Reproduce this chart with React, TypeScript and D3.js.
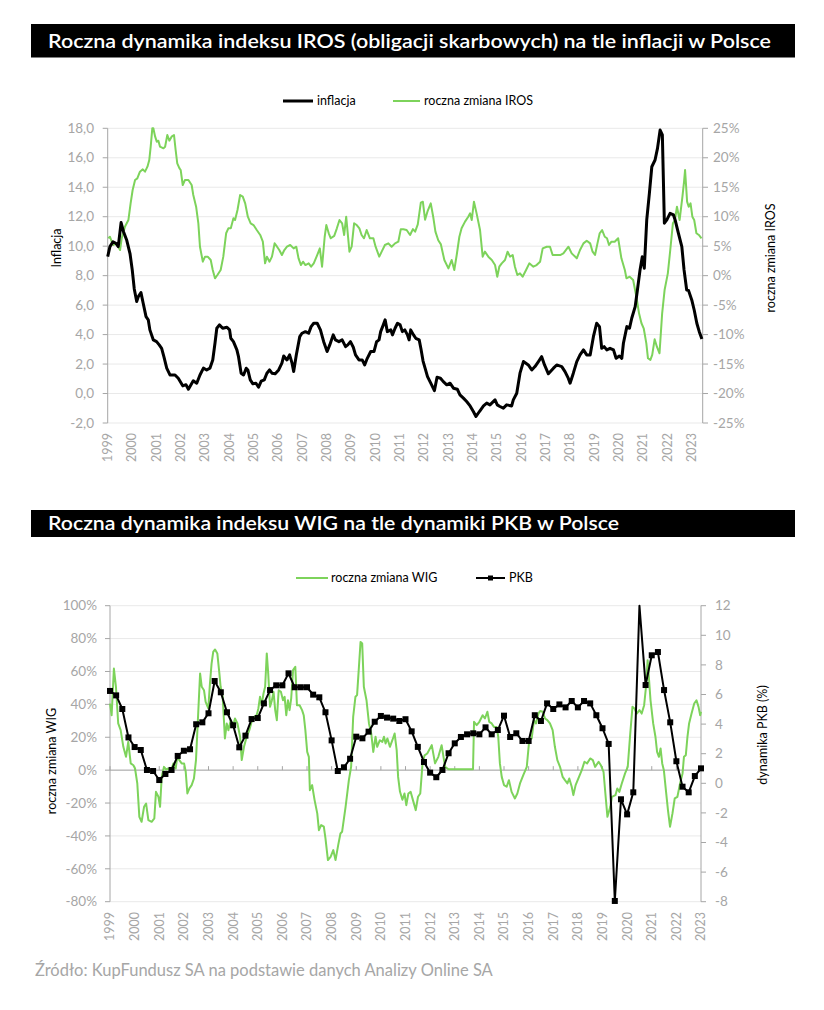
import React from "react";
import * as d3 from "d3";

// ---------- DATA ----------
// x positions are months since Jan 1999 (category axis, monthly)
const yearLabels = d3.range(1999, 2024).map(String);

const title1 = "Roczna dynamika indeksu IROS (obligacji skarbowych) na tle inflacji w Polsce";
const title2 = "Roczna dynamika indeksu WIG na tle dynamiki PKB w Polsce";
const source = "Źródło: KupFundusz SA na podstawie danych Analizy Online SA";

const yTicksInfl = [-2, 0, 2, 4, 6, 8, 10, 12, 14, 16, 18];
const yTicksIros = [-25, -20, -15, -10, -5, 0, 5, 10, 15, 20, 25];
const yTicksWig = [-80, -60, -40, -20, 0, 20, 40, 60, 80, 100];
const yTicksPkb = [-8, -6, -4, -2, 0, 2, 4, 6, 8, 10, 12];

// inflation (%) — [month, value]
const inflation: [number, number][] = [
  [0, 9.29], [1.1, 9.97], [2.6, 10.3], [4, 10.2], [5.2, 9.97], [6.6, 11.6], [7.8, 10.98], [9.4, 10.4],
  [11, 9.5], [12.1, 8.39], [13.1, 7.1], [14.3, 6.24], [15.1, 6.58], [16.4, 6.85], [17.5, 6.13], [18.9, 5.22],
  [20, 5.0], [20.8, 4.32], [22.5, 3.64], [24.1, 3.52], [25.4, 3.3], [26.6, 3.07], [27.7, 2.5], [29.1, 1.72],
  [30.7, 1.26], [33.2, 1.26], [34.8, 1.04], [37, 0.52], [38.6, 0.6], [39.8, 0.29], [42.2, 0.86], [43.9, 0.7],
  [45.5, 1.26], [47.2, 1.72], [48.8, 1.6], [50.4, 1.72], [51.8, 2.28], [52.9, 3.41], [53.8, 4.43], [55.1, 4.66],
  [56.7, 4.43], [58.8, 4.5], [60.1, 4.32], [60.7, 3.75], [62, 3.52], [63.7, 2.96], [64.5, 2.5], [65.8, 1.38],
  [67, 1.26], [68.3, 1.72], [69.1, 1.6], [70.3, 0.93], [71.6, 0.66], [73.1, 0.7], [74.4, 0.43], [75.7, 0.84],
  [77.2, 0.93], [78.5, 1.38], [79.8, 1.6], [81, 1.38], [82.6, 1.34], [84.3, 1.6], [85.9, 2.06], [86.8, 2.55],
  [88.4, 2.28], [89.7, 2.62], [90.9, 2.06], [91.7, 1.49], [93, 2.62], [94.7, 3.86], [95.8, 4.09], [97.5, 4.2],
  [99.1, 4.09], [100.3, 4.54], [101.6, 4.77], [103.3, 4.77], [104.9, 4.32], [106.5, 3.52], [108.2, 2.85], [109.5, 3.3],
  [111.2, 3.98], [112.3, 3.64], [114, 3.52], [115.6, 3.64], [117.3, 3.18], [118.4, 3.3], [119.7, 3.52], [121.1, 3.14],
  [122.2, 2.62], [123.9, 2.28], [125.5, 2.28], [126.7, 1.94], [128, 2.39], [129.7, 2.85], [131.3, 2.85], [132.6, 3.52],
  [133.8, 3.64], [134.6, 4.2], [135.9, 4.66], [136.8, 5.0], [137.9, 4.2], [139.6, 4.32], [140.4, 3.98], [141.7, 4.43],
  [142.9, 4.77], [144.2, 4.66], [145.3, 4.2], [146.5, 4.32], [147.8, 3.98], [148.6, 3.64], [149.4, 4.32], [150.8, 3.98],
  [151.9, 3.75], [153.6, 3.64], [154.5, 3.0], [155.5, 2.2], [156.5, 1.72], [157.7, 1.15], [159.3, 0.7], [161.1, 0.2],
  [162.4, 1.1], [164.1, 1.04], [165.5, 0.81], [167.2, 0.59], [168.8, 0.7], [170.5, 0.36], [172.4, 0.29], [173.7, -0.09],
  [175.4, -0.31], [177, -0.54], [178.7, -0.84], [180.3, -1.22], [181.6, -1.56], [183.3, -1.22], [185.3, -0.84], [186.9, -0.65],
  [188.5, -0.77], [191, -0.43], [192.1, -0.77], [193.4, -0.88], [195.1, -0.99], [196.7, -0.77], [199.2, -0.84], [200, -0.43],
  [201.7, 0.02], [203.3, 1.38], [205, 2.17], [207.4, 1.94], [209.1, 1.6], [210.7, 1.83], [212.4, 2.17], [214, 2.5],
  [215.4, 1.94], [217.3, 1.34], [219.8, 1.72], [221.4, 1.94], [223.9, 1.83], [225.5, 1.49], [227.1, 1.04], [228, 0.7],
  [229.6, 1.38], [231.3, 2.17], [232.9, 2.62], [234.6, 2.96], [236.2, 2.62], [237.9, 2.62], [239.5, 3.86], [241.1, 4.77],
  [242.5, 4.54], [243.6, 3.07], [244.8, 3.18], [246.1, 2.96], [247.7, 3.07], [249.4, 2.96], [250.7, 2.39], [252.3, 2.55],
  [253.5, 2.39], [254.3, 3.41], [256, 4.54], [257.3, 4.43], [258.4, 5.11], [260.1, 5.9], [261.2, 7.03], [262.5, 8.39],
  [263.6, 9.29], [264.6, 8.5], [265.8, 11.78], [267.1, 13.59], [268.3, 15.39], [269.9, 15.85], [271.1, 16.64], [272.4, 17.88],
  [273.5, 17.55], [274.5, 11.56], [275.7, 11.78], [277.3, 12.23], [279, 12.12], [279.8, 11.78], [281.4, 10.88], [283.1, 9.97],
  [284.2, 8.39], [285.5, 7.03], [286.4, 7.0], [288, 6.35], [289.2, 5.67], [290.5, 4.77], [291.7, 4.2], [293, 3.7],
];

// annual change of IROS (%) — [month, value]
const iros: [number, number][] = [
  [0.3, 6.34], [1.1, 6.6], [2, 5.76], [2.8, 5.2], [4.1, 5.48], [5.2, 4.91], [6.1, 4.35], [6.9, 6.34],
  [8.5, 8.3], [10.2, 9.44], [11.3, 12.27], [12.3, 14.53], [13.5, 16.23], [14.6, 16.51], [15.9, 17.64], [17.3, 18.04],
  [18.4, 17.64], [19.6, 18.49], [20.5, 19.62], [21.2, 21.88], [22, 25], [22.5, 25], [23.4, 23.58], [24.2, 22.73],
  [25, 22.9], [25.8, 21.88], [27.5, 21.6], [28.3, 21.88], [29.4, 23.86], [30.4, 22.9], [31.5, 23.58], [32.7, 23.86],
  [33.5, 21.32], [34.3, 19.06], [35.4, 18.21], [36, 17.92], [37, 15.38], [38.1, 16.23], [39.8, 16.23], [41.4, 15.38],
  [42.2, 13.68], [43.6, 11.7], [44.7, 8.88], [45.5, 4.91], [46.9, 2.37], [48, 3.22], [49.3, 3.22], [50.8, 2.65],
  [51.8, 0.96], [52.9, -0.45], [54.1, 0.11], [55.7, 0.96], [57, 3.22], [58.4, 7.19], [59.5, 8.03], [60.7, 8.03],
  [62, 9.73], [62.8, 9.44], [64, 11.14], [65.3, 13.68], [66.6, 13.4], [67.8, 12.27], [69.1, 10.0], [70.5, 8.88],
  [71.9, 8.59], [73.5, 7.74], [75.2, 6.9], [76.5, 5.76], [77.6, 2.09], [78.5, 3.22], [79.8, 2.37], [81, 3.22],
  [82.3, 5.48], [83.5, 4.91], [84.6, 4.35], [85.9, 3.5], [87.1, 4.35], [88.4, 4.91], [90, 5.2], [91.7, 4.63],
  [93, 4.91], [94.1, 2.94], [95.3, 1.8], [96.3, 2.37], [97.5, 1.8], [99.1, 2.09], [100.3, 1.52], [101.6, 2.09],
  [103.3, 3.5], [104.6, 4.63], [105.7, 1.52], [107, 6.6], [107.8, 8.59], [109, 7.19], [110, 6.34], [111.7, 6.74],
  [113, 8.03], [114.3, 9.44], [115.6, 8.88], [116.6, 6.9], [117.6, 10.0], [119.2, 4.07], [120.3, 4.91], [121.5, 8.88],
  [122.8, 8.59], [124.1, 8.03], [125.2, 6.9], [126.4, 6.34], [127.7, 7.74], [129.3, 6.34], [131, 6.34], [132.1, 4.91],
  [133.9, 3.22], [135.1, 4.07], [136.7, 5.2], [138.4, 5.48], [140, 4.91], [141.7, 5.48], [143.3, 5.76], [144.5, 7.86],
  [145.8, 7.86], [147.4, 7.74], [149.1, 6.9], [150.5, 7.9], [151.6, 7.46], [152.9, 8.7], [154.4, 12.4], [155.4, 12.55],
  [156.5, 9.5], [157.8, 11.0], [159.3, 12.27], [160.5, 10.0], [161.6, 7.46], [163, 6.0], [164.3, 5.3], [166, 2.65],
  [168, 1.24], [169.6, 2.65], [170.9, 0.96], [172.1, 3.5], [173.4, 6.6], [174.5, 8.03], [176.2, 9.16], [177.8, 10.0],
  [178.7, 10.57], [179.5, 9.44], [180.6, 12.55], [181.9, 10.57], [183.6, 7.74], [184.9, 3.22], [186, 4.07], [187.7, 3.22],
  [189.4, 2.65], [191, 1.8], [192.1, -0.18], [193.1, 1.52], [194.3, 2.09], [195.9, 2.65], [197.2, 4.07], [198.4, 3.22],
  [199.7, 3.5], [200.8, 1.52], [202, 0.11], [203.3, 0.39], [204.6, -0.18], [206.3, 0.96], [207.9, 2.09], [209.9, 1.52],
  [211.5, 1.8], [213.2, 2.37], [214.5, 4.63], [216.5, 4.91], [218.1, 4.91], [219.4, 3.5], [221.4, 3.5], [223.1, 3.5],
  [224.7, 3.78], [227.2, 4.91], [228.8, 3.78], [231.3, 2.94], [232.9, 4.35], [234.6, 5.48], [236.2, 5.93], [237.9, 5.48],
  [239.1, 4.07], [240.3, 3.5], [241.5, 5.48], [242.6, 7.19], [243.8, 7.74], [245.1, 6.6], [246.2, 6.34], [247.2, 5.2],
  [248.4, 5.76], [250, 5.76], [251.7, 6.34], [253.3, 2.94], [255, 0.96], [255.8, -0.45], [257.4, -0.18], [259.1, -0.74],
  [260.7, -3.57], [262, -6.39], [263.2, -8.08], [264.3, -8.93], [265.6, -11.48], [266.4, -14.02], [267.6, -14.3], [268.5, -13.45],
  [269.7, -10.8], [270.8, -12.05], [272.1, -13.17], [273.4, -6.39], [274.6, -2.44], [276.2, 0.39], [277.4, 4.35], [278.7, 8.88],
  [279.7, 9.44], [280.7, 11.7], [282, 9.44], [283.4, 13.4], [284.2, 15.94], [284.7, 17.92], [285.7, 12.55], [286.5, 11.7],
  [287.4, 12.27], [288.3, 10.0], [289.2, 9.44], [290.3, 7.19], [291.5, 6.9], [292.8, 6.34],
];

// annual change of WIG (%) — [month, value]
const wig: [number, number][] = [
  [0, 40.5], [0.8, 33.4], [1.9, 61.8], [2.9, 50.7], [4, 28.4], [5.2, 24.3], [6.5, 14.2], [7.8, 8.1],
  [8.9, 17.2], [10.1, 4.1], [11.4, 3.0], [12.2, 1.0], [13.3, -8.1], [14.3, -28.4], [15.4, -31.4], [16.6, -22.3],
  [17.6, -20.3], [18.7, -30.4], [20.3, -31.4], [21.6, -29.4], [22.4, -13.2], [23.6, -16.2], [24.4, -22.3], [25.2, -4.05],
  [26.3, 2.0], [27.3, 0.4], [28.4, 1.0], [29.6, -1.0], [30.9, 4.1], [32, 1.0], [32.8, 8.1], [33.8, 6.1],
  [34.9, 4.1], [36.1, 4.1], [36.9, -1.0], [37.7, -14.2], [38.7, -11.1], [39.8, -9.1], [40.9, -5.1], [41.9, 6.1],
  [43.9, 58.8], [44.7, 50.7], [45.8, 48.6], [46.6, 41.5], [47.9, 37.5], [48.7, 52.7], [49.5, 64.8], [50.3, 71.9],
  [51.2, 73.4], [52.3, 71], [53.3, 58.8], [53.9, 50.7], [54.9, 44.6], [56, 19.3], [56.9, 28.4], [57.7, 24.3],
  [58.8, 30.4], [59.8, 26.3], [60.9, 31.4], [62.1, 28.4], [63.4, 20.3], [64.2, 6.1], [65.3, 14.2], [66.6, 20.3],
  [67.9, 24.3], [69, 29.4], [70.2, 32.4], [71.5, 33.4], [72.3, 37.5], [73.1, 44.6], [73.9, 39.5], [74.8, 46.6],
  [75.6, 50.7], [76.4, 71], [77.1, 58.8], [78, 38.5], [78.9, 42.5], [79.7, 47.6], [80.5, 36.5], [81.3, 30.4],
  [82.2, 48.6], [83.3, 47.6], [84.3, 42.5], [85.1, 44.6], [85.9, 33.4], [86.7, 42.5], [87.5, 36.5], [88.3, 43.6],
  [89.2, 60.8], [90.3, 62.8], [91.1, 39.5], [92.4, 39.5], [93.6, 36.5], [94.4, 33.4], [95.2, 24.3], [96.1, 11.1],
  [96.9, 8.1], [97.4, -12.2], [98.5, -9.1], [99.7, -18.2], [101, -26.3], [101.8, -36.5], [102.9, -33.4], [104.2, -34.4],
  [105, -41.5], [106.2, -54.7], [107.5, -52.7], [108.8, -48.6], [109.9, -54.7], [111.2, -45.6], [112.3, -38.5], [113.1, -37.5],
  [114.8, -22.3], [116.4, -6.1], [117.5, 2.0], [118.5, 32.4], [119.6, 44.6], [120.4, 45.6], [121.2, 60.8], [122.1, 78],
  [122.9, 77], [123.7, 50.7], [125, 42.5], [126.2, 28.4], [127.3, 22.3], [128.3, 11.1], [129.4, 20.3], [130.2, 14.2],
  [131.5, 18.2], [132.7, 17.2], [133.5, 20.3], [134.3, 16.2], [135.2, 19.3], [136.4, 14.2], [137.6, 18.2], [138.7, 22.3],
  [139.7, 12.2], [140.4, -4.1], [141.3, -13], [142.5, -18], [143.5, -14.2], [144.4, -21.3], [145.4, -14.2], [146.5, -13.2],
  [147.8, -19], [149, -24.3], [150.1, -16.2], [151.2, -14.2], [152.3, 4.1], [153.3, 9], [154.6, 10.1], [156.8, 15.2],
  [158.4, 4.1], [160, 8.1], [161.6, 15.2], [163.3, 2.0], [164.9, 0.5], [176.9, 0.5], [177.4, 29.4], [178.7, 27.4],
  [180, 29.4], [181.6, 33.4], [182.7, 31.4], [183.9, 35.5], [184.8, 29.4], [186, 28.4], [187.1, 26.3], [188.4, 26.3],
  [189.2, 20.3], [190, 4.1], [190.9, -4.1], [192, -9.1], [193.3, -10.1], [194.4, -6.1], [195.7, -13.2], [197.3, -17.2],
  [198.5, -14.2], [199.8, -8.1], [201.4, -3.0], [203.1, 2.0], [204.3, 18.2], [205.5, 19.3], [206.6, 30.4], [207.6, 28.4],
  [208.8, 34.4], [209.6, 36], [210.9, 35.5], [212, 31.4], [213.1, 30.4], [214.4, 28.4], [215.7, 24.3], [216.8, 14.2],
  [218, 6.1], [219.3, 2.0], [220.6, -4.1], [221.7, -6.1], [222.9, -8.1], [223.8, -5.1], [225, -10.1], [225.8, -15.2],
  [226.9, -9.1], [228.2, -5.1], [229.9, 0], [231.2, 5.1], [232.5, 4.1], [234, 7.1], [235.3, 6.1], [236.4, 2.0],
  [238.1, 5.1], [239.2, 3.0], [240.5, -1], [241.4, -14.2], [242.4, -28.4], [243.8, -22.3], [244.6, -16.2], [246.3, -15.2],
  [247.2, -11.1], [248.2, -13.2], [249.4, -8.1], [251, -2.0], [252.3, 2.0], [253.4, 20.3], [254.6, 38.5], [255.6, 37.5],
  [256.7, 34.4], [258, 36.5], [259.1, 34.4], [260.3, 39.5], [261.2, 50.7], [262, 66.9], [263.4, 42.5], [264.7, 28.4],
  [265.8, 20.3], [266.6, 11.1], [267.5, 8.1], [268.3, 13.2], [269.1, 4.1], [269.9, 0], [270.8, -11.1], [271.9, -24.3],
  [272.9, -34.4], [274.1, -26.3], [275.2, -17.2], [276.5, -16.2], [277.8, -8.1], [279, -2.0], [279.7, 8.1], [280.6, 9.1],
  [281.4, 20.3], [282.2, 28.4], [283.4, 34.4], [284.7, 40.5], [285.8, 42.5], [286.8, 38.5], [287.6, 33.4], [288, 35.5],
];

// GDP dynamics (%), quarterly from the first category
const pkb = [
  6.24, 5.94, 5.02, 3.1, 2.45, 2.25, 0.9, 0.83, 0.22, 0.63, 0.9, 1.85, 2.2, 2.3, 3.99, 4.12,
  4.73, 6.91, 6.15, 4.8, 3.92, 2.43, 3.22, 4.34, 4.41, 5.4, 6.3, 6.62, 6.62, 7.43, 6.49, 6.49,
  6.49, 5.99, 5.81, 4.8, 2.9, 0.83, 1.08, 1.66, 3.15, 3.04, 3.49, 4.16, 4.55, 4.44, 4.37, 4.21,
  4.33, 3.51, 2.46, 1.44, 0.72, 0.41, 0.9, 2.03, 2.7, 3.13, 3.31, 3.38, 3.31, 3.78, 3.31, 3.6,
  4.57, 3.13, 3.38, 2.86, 2.86, 4.6, 4.21, 5.4, 5.02, 5.33, 5.13, 5.56, 5.13, 5.56, 5.4, 4.6,
  3.72, 2.66, -7.95, -1.08, -2.1, -0.61, 12.0, 6.64, 8.65, 8.87, 6.3, 4.12, 1.49, -0.23, -0.61, 0.49,
  1.01,
];

// ---------- STYLE ----------
const GREEN = "#7dd35b";
const GRID = "#e9e9e9";
const AXIS = "#a6a6a6";
const TICK_TEXT = "#a6a6a6";
const FONT = "Lato, 'Open Sans', sans-serif";

export default function App() {
  // chart 1 scales
  const x1 = d3.scaleLinear().domain([0, 293]).range([107.7, 701.9]);
  const y1L = d3.scaleLinear().domain([-2, 18]).range([423, 128.3]);
  const y1R = d3.scaleLinear().domain([-25, 25]).range([423, 128.3]);
  // chart 2 scales
  const x2 = d3.scaleLinear().domain([0, 288]).range([110, 701]);
  const y2L = d3.scaleLinear().domain([-80, 100]).range([901.7, 605.7]);
  const y2R = d3.scaleLinear().domain([-8, 12]).range([901.7, 605.7]);

  const inflLine = d3.line<[number, number]>().x((d) => x1(d[0])).y((d) => y1L(d[1]))(inflation) || "";
  const irosLine = d3.line<[number, number]>().x((d) => x1(d[0])).y((d) => y1R(d[1]))(iros) || "";
  const wigLine = d3.line<[number, number]>().x((d) => x2(d[0])).y((d) => y2L(d[1]))(wig) || "";
  const pkbPts = pkb.map((v, i) => [i * 3, v] as [number, number]);
  const pkbLine = d3.line<[number, number]>().x((d) => x2(d[0])).y((d) => y2R(Math.min(d[1], 12)))(pkbPts) || "";

  const fmtComma = (v: number) => v.toFixed(1).replace(".", ",");

  return (
    <svg width={824} height={1010} style={{ position: "absolute", left: 0, top: 0, background: "#fff" }} fontFamily={FONT}>
      <rect x={0} y={0} width={824} height={1010} fill="#fff" />
      {/* ---------------- CHART 1 ---------------- */}
      <rect x={31} y={24} width={764} height={33.5} fill="#000" />
      <text x={48} y={48.3} fill="#fff" fontSize={19} fontWeight={600} textLength={723} lengthAdjust="spacingAndGlyphs">
        {title1}
      </text>

      {/* legend */}
      <line x1={283} x2={313} y1={101} y2={101} stroke="#000" strokeWidth={3} />
      <text x={317} y={105} fontSize={12.5} fill="#000">inflacja</text>
      <line x1={393} x2={420} y1={101} y2={101} stroke={GREEN} strokeWidth={2} />
      <text x={424} y={105} fontSize={12.5} fill="#000">roczna zmiana IROS</text>

      {/* grid */}
      {yTicksInfl.map((t) => (
        <line key={"g1" + t} x1={107.7} x2={702.7} y1={y1L(t)} y2={y1L(t)} stroke={GRID} strokeWidth={1} />
      ))}
      {/* left axis */}
      <line x1={107.7} x2={107.7} y1={128.3} y2={423} stroke={AXIS} />
      {yTicksInfl.map((t) => (
        <g key={"l1" + t}>
          <line x1={102.7} x2={107.7} y1={y1L(t)} y2={y1L(t)} stroke={AXIS} />
          <text x={94} y={y1L(t)} dy="0.35em" textAnchor="end" fontSize={13.5} fill={TICK_TEXT}>{fmtComma(t)}</text>
        </g>
      ))}
      {/* right axis */}
      <line x1={702.7} x2={702.7} y1={128.3} y2={423} stroke={AXIS} />
      {yTicksIros.map((t) => (
        <g key={"r1" + t}>
          <line x1={702.7} x2={708} y1={y1R(t)} y2={y1R(t)} stroke={AXIS} />
          <text x={713} y={y1R(t)} dy="0.35em" textAnchor="start" fontSize={13.5} fill={TICK_TEXT}>{t + "%"}</text>
        </g>
      ))}
      {/* x labels */}
      {yearLabels.map((lab, i) => (
        <text key={"x1" + lab} transform={`translate(${x1(i * 12)},433) rotate(-90)`} dy="0.35em" textAnchor="end" fontSize={12.5} fill={TICK_TEXT}>
          {lab}
        </text>
      ))}
      {/* axis titles */}
      <text transform="translate(57,248) rotate(-90)" dy="0.35em" textAnchor="middle" fontSize={12.5} fill="#000">Inflacja</text>
      <text transform="translate(771,258) rotate(-90)" dy="0.35em" textAnchor="middle" fontSize={12.5} fill="#000">roczna zmiana IROS</text>

      {/* series */}
      <path d={irosLine} fill="none" stroke={GREEN} strokeWidth={2} strokeLinejoin="round" />
      <path d={inflLine} fill="none" stroke="#000" strokeWidth={3} strokeLinejoin="round" />

      {/* ---------------- CHART 2 ---------------- */}
      <rect x={31} y={510} width={764} height={27} fill="#000" />
      <text x={48} y={529.5} fill="#fff" fontSize={19} fontWeight={600} textLength={571} lengthAdjust="spacingAndGlyphs">
        {title2}
      </text>

      {/* legend */}
      <line x1={296} x2={328} y1={578} y2={578} stroke={GREEN} strokeWidth={2} />
      <text x={331} y={582} fontSize={12.5} fill="#000">roczna zmiana WIG</text>
      <line x1={476} x2={505} y1={578} y2={578} stroke="#000" strokeWidth={2} />
      <rect x={488} y={575.5} width={5} height={5} fill="#000" />
      <text x={509} y={582} fontSize={12.5} fill="#000">PKB</text>

      {/* grid */}
      {yTicksWig.map((t) => (
        <line key={"g2" + t} x1={110} x2={701} y1={y2L(t)} y2={y2L(t)} stroke={GRID} strokeWidth={1} />
      ))}
      {/* zero axis with year ticks */}
      <line x1={110} x2={701} y1={y2L(0)} y2={y2L(0)} stroke={AXIS} />
      {yearLabels.map((lab, i) => (
        <line key={"t2" + lab} x1={x2(i * 12)} x2={x2(i * 12)} y1={y2L(0) - 4} y2={y2L(0)} stroke={AXIS} />
      ))}
      {/* left axis */}
      <line x1={110} x2={110} y1={605.7} y2={901.7} stroke={AXIS} />
      {yTicksWig.map((t) => (
        <g key={"l2" + t}>
          <line x1={105} x2={110} y1={y2L(t)} y2={y2L(t)} stroke={AXIS} />
          <text x={97} y={y2L(t)} dy="0.35em" textAnchor="end" fontSize={13.5} fill={TICK_TEXT}>{t + "%"}</text>
        </g>
      ))}
      {/* right axis */}
      <line x1={701} x2={701} y1={605.7} y2={901.7} stroke={AXIS} />
      {yTicksPkb.map((t) => (
        <g key={"r2" + t}>
          <line x1={701} x2={706} y1={y2R(t)} y2={y2R(t)} stroke={AXIS} />
          <text x={715} y={y2R(t)} dy="0.35em" textAnchor="start" fontSize={13.5} fill={TICK_TEXT}>{String(t)}</text>
        </g>
      ))}
      {/* x labels */}
      {yearLabels.map((lab, i) => (
        <text key={"x2" + lab} transform={`translate(${x2(i * 12)},912) rotate(-90)`} dy="0.35em" textAnchor="end" fontSize={12.5} fill={TICK_TEXT}>
          {lab}
        </text>
      ))}
      {/* axis titles */}
      <text transform="translate(52,761) rotate(-90)" dy="0.35em" textAnchor="middle" fontSize={12.5} fill="#000">roczna zmiana WIG</text>
      <text transform="translate(763,735) rotate(-90)" dy="0.35em" textAnchor="middle" fontSize={12.5} fill="#000">dynamika PKB (%)</text>

      {/* series */}
      <path d={wigLine} fill="none" stroke={GREEN} strokeWidth={2} strokeLinejoin="round" />
      <path d={pkbLine} fill="none" stroke="#000" strokeWidth={2} strokeLinejoin="round" />
      {pkbPts.filter((d) => d[1] < 12).map((d, i) => (
        <rect key={"m" + i} x={x2(d[0]) - 3} y={y2R(d[1]) - 3} width={6} height={6} fill="#000" />
      ))}

      {/* source */}
      <text x={35} y={976} fontSize={16.5} fill="#a6a6a6">{source}</text>
    </svg>
  );
}
